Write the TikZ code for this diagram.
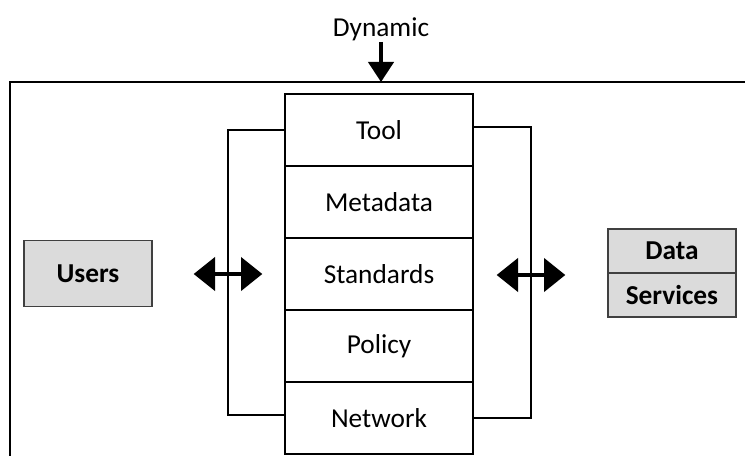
\documentclass[tikz,border=0pt]{standalone}
\usepackage{fontspec}
\setmainfont{Carlito}
\usetikzlibrary{arrows.meta,calc}
\begin{document}
\begin{tikzpicture}[x=0.75pt,y=-0.75pt,
  txt/.style={font=\fontsize{20.5}{24}\selectfont},
  cell/.style={draw=black, line width=0.9pt, minimum width=141pt, minimum height=54pt, inner sep=0pt, txt},
  graybox/.style={draw=black!75, fill=black!14, line width=0.9pt, inner sep=0pt, font=\fontsize{20.5}{24}\selectfont\bfseries},
  conn/.style={line width=0.9pt},
  dbl/.style={line width=2.4pt, {Triangle[width=25pt,length=16pt]}-{Triangle[width=25pt,length=16pt]}, shorten <=-1pt, shorten >=-1pt}
]
\useasboundingbox (0,0) rectangle (745,456);
% outer frame
\coordinate (fbl) at (10,460);
\coordinate (ftl) at (10,82);
\coordinate (ftr) at (750,82);
\draw[line width=1pt] (fbl) -- (ftl) -- (ftr);
% dynamic
\node[txt, inner sep=0pt] (dyn) at (381,29) {Dynamic};
\coordinate (dynstart) at (381,42);
\coordinate (dyntip) at (381,82);
\draw[line width=2.4pt, -{Triangle[width=19pt,length=15pt]}] (dynstart) -- (dyntip);
% stack
\node[cell] (tool) at (379,130) {Tool};
\node[cell] (meta) at (379,202) {Metadata};
\node[cell] (std) at (379,274) {Standards};
\node[cell] (pol) at (379,346) {Policy};
\node[cell] (net) at (379,418) {Network};
% brackets
\coordinate (lb1) at (228,130);
\coordinate (lb2) at (228,415);
\coordinate (rb1) at (531,127);
\coordinate (rb2) at (531,418);
\draw[conn] (tool.west |- lb1) -- (lb1) -- (lb2) -- (net.west |- lb2);
\draw[conn] (tool.east |- rb1) -- (rb1) -- (rb2) -- (net.east |- rb2);
% boxes
\node[graybox, minimum width=96pt, minimum height=49pt] (users) at (88,273.5) {Users};
\node[graybox, minimum width=96pt, minimum height=33pt] (data) at (672,251) {Data};
\node[graybox, minimum width=96pt, minimum height=33pt] (serv) at (672,295) {Services};
% double arrows
\coordinate (la1) at (195,274);
\coordinate (la2) at (261,274);
\coordinate (ra1) at (498,275);
\coordinate (ra2) at (564,275);
\draw[dbl] (la1) -- (la2);
\draw[dbl] (ra1) -- (ra2);
\end{tikzpicture}
\end{document}
